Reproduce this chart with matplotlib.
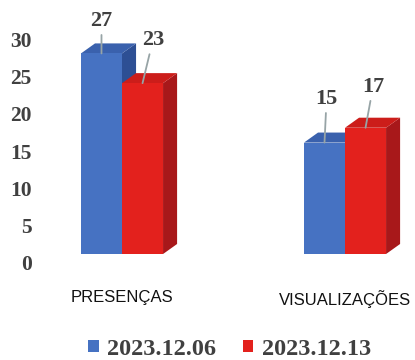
import matplotlib.pyplot as plt
import matplotlib.transforms as mtransforms
from matplotlib.patches import Polygon, Patch

# Data
categories = ["PRESENÇAS", "VISUALIZAÇÕES"]
series_names = ["2023.12.06", "2023.12.13"]
values_0612 = [27, 15]
values_1312 = [23, 17]
yticks = [0, 5, 10, 15, 20, 25, 30]

# Styling
front_colors = ["#4672c2", "#e3211d"]
top_colors = ["#3a61ad", "#cc1d1a"]
side_colors = ["#2d4f94", "#a8181a"]
text_gray = "#404040"
serif = ["Liberation Serif", "DejaVu Serif"]

bar_w = 0.184
depth_x = 0.063
depth_y = 1.35

fig = plt.figure(figsize=(4.15, 3.6), dpi=100)
ax = fig.add_axes([0.0964, 0.2944, 0.8916, 0.6397])
ax.set_xlim(-0.3677, 1.2915)
ax.set_ylim(0, 31)

all_series = [values_0612, values_1312]
# label centre offsets (points) for value labels: (dx, dy)
label_offsets = [[(0, 23.5), (1.5, 31.5)], [(7.5, 31), (5.4, 29.5)]]

for s, vals in enumerate(all_series):
    for i, v in enumerate(vals):
        x0 = i - bar_w if s == 0 else i
        x1 = x0 + bar_w
        side = Polygon([(x1, 0), (x1 + depth_x, depth_y), (x1 + depth_x, v + depth_y), (x1, v)],
                       closed=True, facecolor=side_colors[s], edgecolor="none", zorder=2 + s)
        top = Polygon([(x0, v), (x0 + depth_x, v + depth_y), (x1 + depth_x, v + depth_y), (x1, v)],
                      closed=True, facecolor=top_colors[s], edgecolor="none", zorder=2 + s)
        ax.add_patch(side)
        ax.add_patch(top)
        ax.bar(x0, v, width=bar_w, align="edge", color=front_colors[s], zorder=2 + s)
        dx, dy = label_offsets[s][i]
        ax.annotate(str(v), xy=(x0 + bar_w / 2, v), xytext=(dx, dy), textcoords="offset points",
                    ha="center", va="center", fontsize=16, fontweight="bold", family=serif,
                    color=text_gray, zorder=6,
                    arrowprops=dict(arrowstyle="-", color="#97a4a6", lw=1.3, shrinkA=1, shrinkB=0))

# Axes
for sp in ax.spines.values():
    sp.set_visible(False)
ax.set_yticks(yticks)
ax.set_yticklabels([str(t) for t in yticks], fontsize=15.5, fontweight="bold",
                   family=serif, color=text_gray)
ax.tick_params(axis="y", length=0, pad=6)
offset = mtransforms.ScaledTranslation(0, -8.5 / 100, fig.dpi_scale_trans)
for lab in ax.get_yticklabels():
    lab.set_transform(lab.get_transform() + offset)

ax.set_xticks(range(len(categories)))
ax.set_xticklabels(categories, fontsize=12, family="Liberation Sans", color="#111111")
ax.tick_params(axis="x", length=0, pad=26)

# Legend
handles = [Patch(facecolor=front_colors[k], edgecolor="none") for k in range(2)]
fig.legend(handles, series_names, loc="center", bbox_to_anchor=(0.553, 0.03), ncol=2,
           frameon=False, handlelength=0.42, handleheight=0.42, handletextpad=0.35,
           columnspacing=1.1, prop={"family": serif, "weight": "bold", "size": 17.5},
           labelcolor=text_gray)

plt.savefig("out.png", dpi=100)
